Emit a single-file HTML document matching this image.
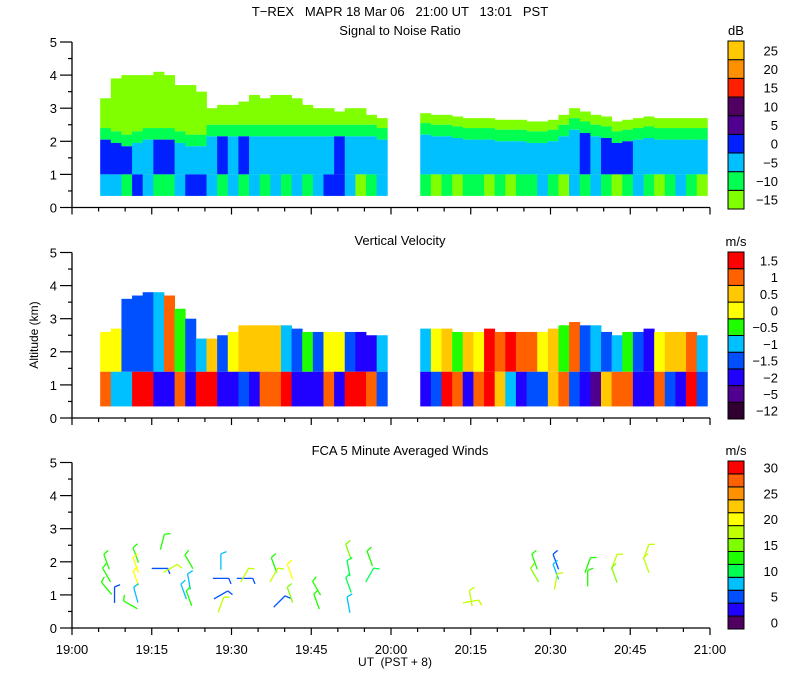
<!DOCTYPE html>
<html><head><meta charset="utf-8"><style>
body{margin:0;background:#fff;}
svg{display:block;font-family:"Liberation Sans",sans-serif;font-size:13px;}
</style></head><body>
<svg id="chart" width="800" height="700" viewBox="0 0 800 700">
<rect width="800" height="700" fill="#fff"/>
<text x="400" y="16" text-anchor="middle" style="white-space:pre">T−REX   MAPR 18 Mar 06   21:00 UT   13:01   PST</text>
<text x="400" y="35" text-anchor="middle">Signal to Noise Ratio</text>
<text x="400" y="245" text-anchor="middle">Vertical Velocity</text>
<text x="400" y="455" text-anchor="middle">FCA 5 Minute Averaged Winds</text>
<text x="38" y="335" text-anchor="middle" font-size="12" transform="rotate(-90 38 335)">Altitude (km)</text>
<text x="395" y="666" text-anchor="middle" font-size="12" style="white-space:pre">UT  (PST + 8)</text>
<g id="layer"></g>
</svg>
<script>
// ---- data ----
const seg1Start = 5.3, seg2Start = 65.5; // minutes after 19:00
const snrTop1 = [3.3,3.9,4.0,4.0,4.0,4.1,4.0,3.7,3.7,3.5,3.0,3.1,3.1,3.2,3.4,3.3,3.4,3.4,3.3,3.1,3.0,3.0,2.9,3.0,3.0,2.8,2.7];
const snrLg1  = [2.4,2.3,2.2,2.3,2.4,2.4,2.4,2.3,2.2,2.2,2.5,2.5,2.5,2.5,2.5,2.5,2.5,2.5,2.5,2.5,2.5,2.5,2.5,2.5,2.5,2.5,2.4];
const snrMid1 = [2,2,2,-3,-3,2,2,-3,-3,-3,-3,2,-3,2,-3,-3,-3,-3,-3,-3,-3,-3,2,-3,-3,-3,-3];
const snrLow1 = [-3,-3,-8,2,-3,-8,-8,-3,2,2,-3,-8,-3,-8,-3,-8,-3,-8,-3,-8,-3,2,2,-3,-13,-8,-3];
const snrTop2 = [2.85,2.8,2.8,2.75,2.7,2.7,2.7,2.65,2.65,2.65,2.6,2.6,2.65,2.8,3.0,2.9,2.8,2.75,2.6,2.65,2.7,2.75,2.7,2.7,2.7,2.7,2.7];
const snrLg2  = [2.55,2.5,2.5,2.45,2.4,2.4,2.4,2.35,2.35,2.35,2.3,2.3,2.35,2.5,2.7,2.6,2.5,2.45,2.3,2.35,2.4,2.45,2.4,2.4,2.4,2.4,2.4];
const snrMid2 = [-3,-3,-3,-3,-3,-3,-3,-3,-3,-3,-3,-3,-3,-3,-3,2,-3,2,2,2,-3,-3,-3,-3,-3,-3,-3];
const snrLow2 = [-8,-13,-8,-13,-8,-8,-13,-8,-13,-8,-8,-3,-8,-13,-3,-8,-3,-8,-13,-8,-3,-8,-13,-8,-3,-8,-13];

const velTop1 = [2.6,2.7,3.6,3.7,3.8,3.8,3.7,3.3,3.0,2.4,2.4,2.5,2.6,2.8,2.8,2.8,2.8,2.8,2.7,2.6,2.6,2.6,2.6,2.6,2.6,2.5,2.5];
const velLow1 = [1.0,-0.8,-1,1.6,1.6,-2.5,-3,1.2,-3,1.6,1.6,-2,-3,-1.7,-3,0.8,1.2,1.6,-3,-2,-3,1.2,-3,1.6,1.6,0.8,-1.7];
const velUp1  = [0.2,0,-1.7,-1.7,-1.7,-0.8,1.2,-0.5,-1.7,-1,0.3,-1.7,0.2,0.6,0.6,0.6,0.4,-1,-1.7,-0.5,-1.7,0.2,0,-1.7,-3,-3,-1];
const velTop2 = [2.7,2.7,2.7,2.6,2.6,2.6,2.7,2.6,2.6,2.6,2.6,2.6,2.7,2.8,2.9,2.8,2.8,2.6,2.5,2.6,2.6,2.7,2.6,2.6,2.6,2.6,2.5];
const velLow2 = [-3,-1.7,1.6,1.0,-2,0.8,1.6,0.3,-1,-3,-1.7,-1.7,0.3,1.0,-1.7,-2,-6,0.3,1.2,1.0,-2,-3,1.2,-1.7,-3,1.6,-1.7];
const velUp2  = [-1,0.2,0.3,-0.5,0.3,0.2,1.5,0.8,1.6,1.0,1.0,0.2,0.6,-0.5,1.0,-1.7,-1,-1.7,-1,-0.5,-1.7,-2,0.2,0.6,0.3,1.0,-1];

const windTime  = [6.5,6.5,6.5,8,12,12,12,12,11,16.5,17,18.5,22,22,22,21,28,28,28,28,32.5,32.5,38,38,39,41,41,46,46,52,52,52,52,56,56,75,75,87,87,91,91,91,97,97,102,102,108,108];
const windAlt   = [2.0,1.6,1.2,1.0,2.2,1.9,1.5,1.0,0.7,1.8,2.6,1.8,2.0,1.4,0.9,1.1,1.5,1.0,2.0,0.7,1.5,1.6,1.9,1.6,0.8,1.7,1.0,0.8,1.2,2.3,1.8,1.3,0.7,2.1,1.6,0.9,0.8,2.0,1.6,2.0,1.7,1.4,1.9,1.5,2.0,1.6,2.3,1.9];
const windSpeed = [12,12,12,4,12,20,20,8,12,6,12,17,12,8,12,8,6,6,8,17,4,17,12,17,4,20,14,12,12,14,10,10,8,12,10,18,18,12,14,6,8,17,12,12,17,14,17,17];
const windDir   = [-20,-30,-40,0,-20,-20,-20,-15,-60,90,15,60,-30,-10,-20,-20,90,60,0,20,90,30,-20,30,45,-20,-20,-20,-30,-20,-10,-20,-10,-20,30,-10,80,-20,-30,-20,-20,10,20,0,20,-20,20,-20];

const snrLabels = [-15,-10,-5,0,5,10,15,20,25];
const snrColors = ["#80ff00","#00ff50","#00c0ff","#0020ff","#500090","#500060","#ff2000","#ff9000","#ffc800"];
const velLabels = [-12,-5,-2,-1.5,-1,-0.5,0,0.5,1,1.5];
const velColors = ["#300030","#500090","#2000ff","#0050ff","#00c0ff","#20ff00","#ffff00","#ffc800","#ff6000","#ff0000"];
const windLabels = [0,5,10,15,20,25,30];
const windColors = ["#500060","#2000ff","#0050ff","#00c0ff","#00ff50","#20ff00","#80ff00","#c0ff00","#ffff00","#ffc800","#ff9000","#ff6000","#ff0000"];
const xTickLabels = ["19:00","19:15","19:30","19:45","20:00","20:15","20:30","20:45","21:00"];
const yTickLabels = [0,1,2,3,4,5];

// ---- axes ----
const NS="http://www.w3.org/2000/svg";
const L=document.getElementById('layer');
const x0=72,x1=710;
const xs=t=>x0+t*(x1-x0)/120;
const panels=[{y0:207.5,name:'snr'},{y0:418,name:'velocity'},{y0:628,name:'winds'}];
const K=33.1;
const ys=(p,a)=>panels[p].y0-a*K;
function el(tag,at){const e=document.createElementNS(NS,tag);for(const k in at)e.setAttribute(k,at[k]);L.appendChild(e);return e;}
function binSnr(v){let b=Math.round((v+15)/5);return Math.max(0,Math.min(8,b));}
function binVel(v){let bi=0,bd=1e9;velLabels.forEach((l,i)=>{const d=Math.abs(v-l);if(d<bd){bd=d;bi=i;}});return bi;}
function binWind(v){return Math.max(0,Math.min(12,Math.round(v/2.5)));}
const cw=xs(2)-xs(0);

function drawSnr(start,top,lg,mid,low,tag){
  for(let i=0;i<top.length;i++){
    const xa=xs(start+2*i), w=cw+0.4;
    const band=(a,b,v,nm)=>{if(b<=a)return;
      const r=el('rect',{x:xa,y:ys(0,b),width:w,height:ys(0,a)-ys(0,b),fill:snrColors[binSnr(v)]});
      
      };
    band(lg[i],top[i],-13,'snr-cell-'+tag+'-top-'+i);
    band(lg[i]-0.35,lg[i],-8,'snr-cell-'+tag+'-upper-'+i);
    band(1.0,lg[i]-0.35,mid[i],'snr-cell-'+tag+'-mid-'+i);
    band(0.35,1.0,low[i],'snr-cell-'+tag+'-low-'+i);
  }
}
drawSnr(seg1Start,snrTop1,snrLg1,snrMid1,snrLow1,'a');
drawSnr(seg2Start,snrTop2,snrLg2,snrMid2,snrLow2,'b');

function drawVel(start,top,low,up,tag){
  for(let i=0;i<top.length;i++){
    const xa=xs(start+2*i), w=cw+0.4, split=1.4;
    const r1=el('rect',{x:xa,y:ys(1,split),width:w,height:ys(1,0.35)-ys(1,split),fill:velColors[binVel(low[i])]});
    
    
    const r2=el('rect',{x:xa,y:ys(1,top[i]),width:w,height:ys(1,split)-ys(1,top[i]),fill:velColors[binVel(up[i])]});
    
    
  }
}
drawVel(seg1Start,velTop1,velLow1,velUp1,'a');
drawVel(seg2Start,velTop2,velLow2,velUp2,'b');

for(let i=0;i<windTime.length;i++){
  const cx=xs(windTime[i]), cy=ys(2,windAlt[i]), a=windDir[i]*Math.PI/180, Ls=16;
  const px=cx-Ls/2*Math.sin(a), py=cy+Ls/2*Math.cos(a);
  const ex=cx+Ls/2*Math.sin(a), ey=cy-Ls/2*Math.cos(a);
  const c=windColors[binWind(windSpeed[i])];
  const g=el('g',{stroke:c,'stroke-width':1.3,fill:'none'});
  
  
  const s=document.createElementNS(NS,'line');
  s.setAttribute('x1',px);s.setAttribute('y1',py);s.setAttribute('x2',ex);s.setAttribute('y2',ey);g.appendChild(s);
  const b=document.createElementNS(NS,'line');
  const bx=ex+6*Math.sin(a+1.2), by=ey-6*Math.cos(a+1.2);
  b.setAttribute('x1',ex);b.setAttribute('y1',ey);b.setAttribute('x2',bx);b.setAttribute('y2',by);g.appendChild(b);
}

panels.forEach((p,pi)=>{
  const ax=el('path',{d:`M${x0},${ys(pi,5)}V${p.y0}H${x1}`,stroke:'#000','stroke-width':1.3,fill:'none'});
  
  
  for(let k=0;k<=10;k++){
    const y=ys(pi,k/2), len=(k%2===0)?12:4;
    el('line',{x1:x0-len,y1:y,x2:x0,y2:y,stroke:'#000','stroke-width':1.2});
  }
  yTickLabels.forEach(v=>{
    const t=el('text',{x:57,y:ys(pi,v)+5,'text-anchor':'end'});t.textContent=v;
    
    
  });
  for(let m=0;m<=120;m+=5){
    const len=(m%15===0)?7:4;
    el('line',{x1:xs(m),y1:p.y0,x2:xs(m),y2:p.y0+len,stroke:'#000','stroke-width':1.2});
  }
});
xTickLabels.forEach((lab,i)=>{
  const t=el('text',{x:xs(i*15),y:654,'text-anchor':'middle'});t.textContent=lab;
  
  
});

function colorbar(colors,labels,top,bot,unit,name,labelIdx){
  const n=colors.length,h=(bot-top)/n;
  colors.forEach((c,i)=>{
    const r=el('rect',{x:728,y:bot-(i+1)*h,width:16,height:h,fill:c,stroke:'#000','stroke-width':1});
    
    
  });
  labels.forEach((l,j)=>{
    const i=labelIdx(j);
    const t=el('text',{x:778,y:bot-(i+0.5)*h+5,'text-anchor':'end'});
    t.textContent=String(l).replace('-','−');
    
    
  });
  const u=el('text',{x:736,y:top-6,'text-anchor':'middle'});u.textContent=unit;
  
  
}
colorbar(snrColors,snrLabels,41,209,'dB','snr-colorbar',j=>j);
colorbar(velColors,velLabels,252,419,'m/s','velocity-colorbar',j=>j);
colorbar(windColors,windLabels,461,629,'m/s','winds-colorbar',j=>2*j);
</script>
</body></html>
